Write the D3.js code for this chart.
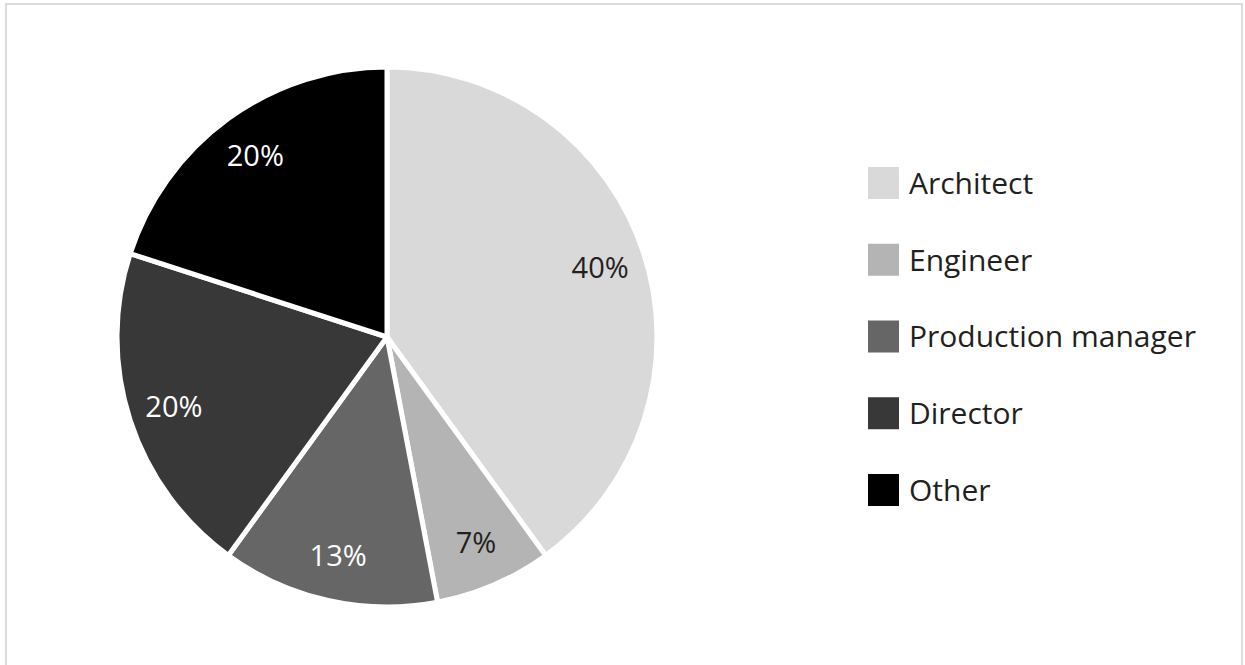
<!DOCTYPE html>
<html lang="en">
<head>
    <meta charset="UTF-8">
    <title>Professions</title>
    <script src="https://d3js.org/d3.v7.min.js"></script>
    <style>
        body { margin: 0; background: #fff; }
        text { font-family: "Open Sans", sans-serif; }
    </style>
</head>
<body>
<svg width="1245" height="665"></svg>
<script>
    const categories = ["Architect", "Engineer", "Production manager", "Director", "Other"];
    const values = [40, 7, 13, 20, 20];
    const colors = ["#d9d9d9", "#b4b4b4", "#666666", "#383838", "#000000"];
    const labelColors = ["#231f20", "#231f20", "#ffffff", "#ffffff", "#ffffff"];

    const data = categories.map((c, i) => ({name: c, value: values[i], i}));

    const svg = d3.select("svg");

    // frame
    svg.append("rect")
        .attr("x", 6).attr("y", 4)
        .attr("width", 1236).attr("height", 700)
        .attr("fill", "none")
        .attr("stroke", "#dcdcdc")
        .attr("stroke-width", 2);

    const cx = 387, cy = 337, r = 270;
    const g = svg.append("g").attr("transform", `translate(${cx},${cy})`);

    const pie = d3.pie().sort(null).value(d => d.value);
    const arc = d3.arc().innerRadius(0).outerRadius(r);
    const labelArc = d3.arc().innerRadius(r * 0.83).outerRadius(r * 0.83);
    const arcs = pie(data);

    g.selectAll("path")
        .data(arcs)
        .join("path")
        .attr("d", arc)
        .attr("fill", d => colors[d.data.i])
        .attr("stroke", "#fff")
        .attr("stroke-width", 5)
        .attr("stroke-linejoin", "round");

    g.selectAll("text.pct")
        .data(arcs)
        .join("text")
        .attr("class", "pct")
        .attr("transform", d => `translate(${labelArc.centroid(d)})`)
        .attr("text-anchor", "middle")
        .attr("dy", "0.36em")
        .attr("font-size", 29)
        .attr("fill", d => labelColors[d.data.i])
        .text(d => d.data.value + "%");

    // legend
    const ly = d3.scalePoint().domain(categories).range([183, 490]);
    const legend = svg.append("g")
        .selectAll("g")
        .data(data)
        .join("g")
        .attr("transform", d => `translate(868,${ly(d.name)})`);

    legend.append("rect")
        .attr("x", 0).attr("y", -16)
        .attr("width", 31).attr("height", 32)
        .attr("fill", d => colors[d.i]);

    legend.append("text")
        .attr("x", 41)
        .attr("dy", "0.36em")
        .attr("font-size", 30)
        .attr("fill", "#231f20")
        .text(d => d.name);
</script>
</body>
</html>
